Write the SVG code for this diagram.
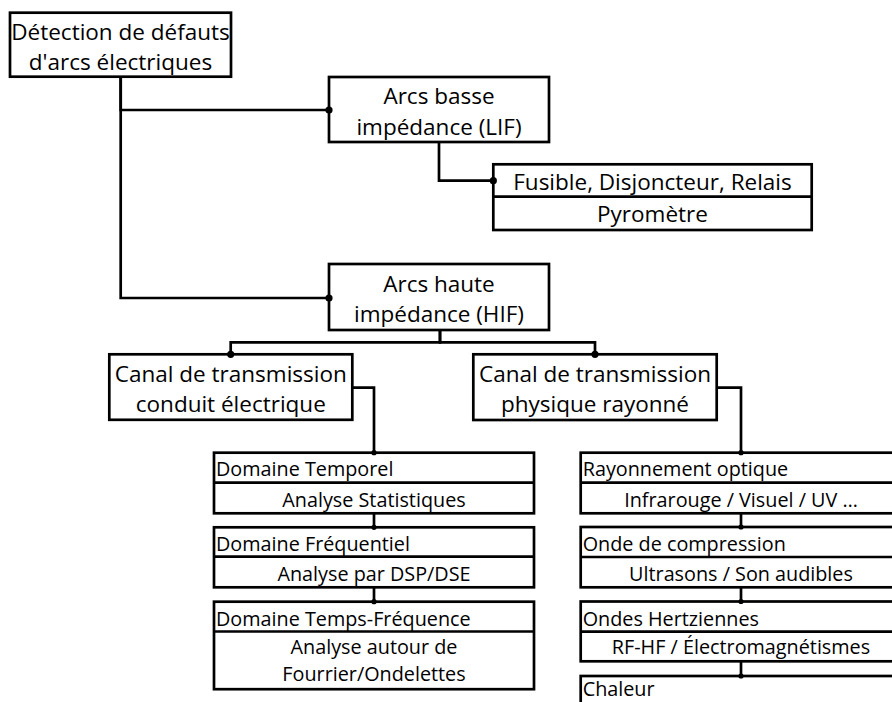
<svg xmlns="http://www.w3.org/2000/svg" width="892" height="702" viewBox="0 0 892 702">
<style>
.box{fill:#fff;stroke:#000;stroke-width:2.7}
.div{stroke:#000;stroke-width:2.7}
.con{fill:none;stroke:#000;stroke-width:2.7}
.t1{font-family:"Open Sans","DejaVu Sans",sans-serif;font-size:22.5px;fill:#000;text-anchor:middle}
.t2{font-family:"Open Sans","DejaVu Sans",sans-serif;font-size:19.8px;fill:#000;text-anchor:middle}
.t2l{font-family:"Open Sans","DejaVu Sans",sans-serif;font-size:19.8px;fill:#000;text-anchor:start}
</style>
<defs>
<marker id="dot" markerUnits="userSpaceOnUse" markerWidth="10" markerHeight="10" refX="5" refY="5" viewBox="0 0 10 10">
<circle cx="5" cy="5" r="3.6" fill="#000"/>
</marker>
<marker id="sdot" markerUnits="userSpaceOnUse" markerWidth="8" markerHeight="8" refX="4" refY="4" viewBox="0 0 8 8">
<circle cx="4" cy="4" r="2.6" fill="#000"/>
</marker>
</defs>
<g id="root">
<rect class="box" x="10" y="12.7" width="221" height="64"/>
<text class="t1" x="120.5" y="39.5">Détection de défauts</text>
<text class="t1" x="120.5" y="69.5">d'arcs électriques</text>
</g>
<g id="lif">
<rect class="box" x="329" y="77" width="220" height="65"/>
<text class="t1" x="439" y="104.3">Arcs basse</text>
<text class="t1" x="439" y="135">impédance (LIF)</text>
</g>
<g id="lif-methods">
<rect class="box" x="493.3" y="164.3" width="318.4" height="65.7"/>
<line class="div" x1="493.3" y1="196.7" x2="811.7" y2="196.7"/>
<text class="t1" x="652.5" y="190">Fusible, Disjoncteur, Relais</text>
<text class="t1" x="652.5" y="221.7">Pyromètre</text>
</g>
<g id="hif">
<rect class="box" x="329" y="264" width="220" height="66"/>
<text class="t1" x="439" y="291.5">Arcs haute</text>
<text class="t1" x="439" y="322">impédance (HIF)</text>
</g>
<g id="conduit">
<rect class="box" x="109.3" y="354.3" width="243" height="65.5"/>
<text class="t1" x="230.8" y="381.7">Canal de transmission</text>
<text class="t1" x="230.8" y="411.7">conduit électrique</text>
</g>
<g id="rayonne">
<rect class="box" x="473.3" y="354.3" width="243.4" height="65.7"/>
<text class="t1" x="595" y="381.7">Canal de transmission</text>
<text class="t1" x="595" y="411.7">physique rayonné</text>
</g>
<g id="temporel">
<rect class="box" x="214" y="452.7" width="320" height="60.6"/>
<line class="div" x1="214" y1="482.7" x2="534" y2="482.7"/>
<text class="t2l" x="216" y="476">Domaine Temporel</text>
<text class="t2" x="374" y="506.7">Analyse Statistiques</text>
</g>
<g id="frequentiel">
<rect class="box" x="214" y="527.3" width="320" height="60"/>
<line class="div" x1="214" y1="556.7" x2="534" y2="556.7"/>
<text class="t2l" x="216" y="550.5">Domaine Fréquentiel</text>
<text class="t2" x="374" y="580.7">Analyse par DSP/DSE</text>
</g>
<g id="temps-frequence">
<rect class="box" x="214" y="601.7" width="320" height="87.5"/>
<line class="div" x1="214" y1="631.5" x2="534" y2="631.5"/>
<text class="t2l" x="216" y="625.5">Domaine Temps-Fréquence</text>
<text class="t2" x="374" y="653.5">Analyse autour de</text>
<text class="t2" x="374" y="681">Fourrier/Ondelettes</text>
</g>
<g id="optique">
<rect class="box" x="580.7" y="452.7" width="320" height="60.6"/>
<line class="div" x1="580.7" y1="482.7" x2="900.7" y2="482.7"/>
<text class="t2l" x="582.7" y="476">Rayonnement optique</text>
<text class="t2" x="741" y="506.7">Infrarouge / Visuel / UV …</text>
</g>
<g id="compression">
<rect class="box" x="580.7" y="527" width="320" height="60.3"/>
<line class="div" x1="580.7" y1="557" x2="900.7" y2="557"/>
<text class="t2l" x="582.7" y="550.5">Onde de compression</text>
<text class="t2" x="741" y="580.7">Ultrasons / Son audibles</text>
</g>
<g id="hertziennes">
<rect class="box" x="580.7" y="601.5" width="320" height="59.8"/>
<line class="div" x1="580.7" y1="631.7" x2="900.7" y2="631.7"/>
<text class="t2l" x="582.7" y="626">Ondes Hertziennes</text>
<text class="t2" x="741" y="653.5">RF-HF / Électromagnétismes</text>
</g>
<g id="chaleur">
<rect class="box" x="580.7" y="676" width="320" height="60"/>
<text class="t2l" x="582.7" y="696">Chaleur</text>
</g>
<g id="connectors">
<path class="con" d="M120.7,77 V110 H329" marker-end="url(#dot)"/>
<path class="con" d="M120.7,77 V298 H329" marker-end="url(#dot)"/>
<path class="con" d="M439,142 V180.7 H493.3" marker-end="url(#dot)"/>
<path class="con" d="M440,330 V342.3 H230.7 V354.3" marker-end="url(#dot)"/>
<path class="con" d="M440,330 V342.3 H595 V354.3" marker-end="url(#dot)"/>
<path class="con" d="M352.3,387.7 H374 V452.7" marker-end="url(#sdot)"/>
<path class="con" d="M716.7,387.7 H741 V452.7" marker-end="url(#sdot)"/>
<path class="con" d="M374,513.3 V527.3" marker-end="url(#sdot)"/>
<path class="con" d="M374,587.3 V601.7" marker-end="url(#sdot)"/>
<path class="con" d="M741,513.3 V527" marker-end="url(#sdot)"/>
<path class="con" d="M741,587.3 V601.5" marker-end="url(#sdot)"/>
<path class="con" d="M741,661.3 V676" marker-end="url(#sdot)"/>
</g>
</svg>
